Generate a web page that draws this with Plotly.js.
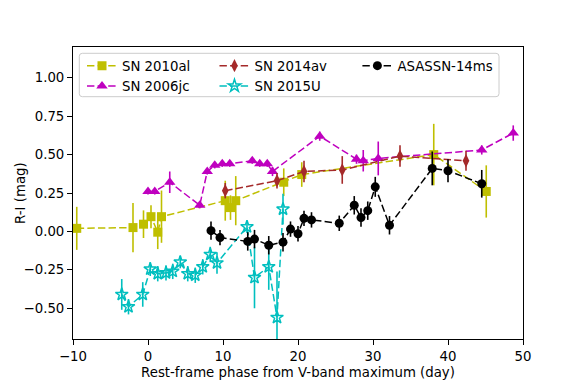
<!DOCTYPE html>
<html>
<head>
<meta charset="utf-8">
<script src="https://cdn.plot.ly/plotly-3.0.1.min.js"></script>
<style>
  html, body { margin: 0; padding: 0; background: #ffffff; }
  #chart { width: 581px; height: 388px; }
</style>
</head>
<body>
<div id="chart"></div>
<script>
// SN 2010al
const sn2010alPhase = [-9.5, -2.0, -0.6, 0.4, 1.3, 1.8, 10.3, 11.0, 11.7, 18.1, 20.5, 38.1, 45.1];
const sn2010alColor = [0.02, 0.025, 0.047, 0.096, -0.005, 0.096, 0.20, 0.155, 0.20, 0.32, 0.37, 0.50, 0.26];
const sn2010alErr = [0.14, 0.16, 0.09, 0.075, 0.11, 0.17, 0.13, 0.08, 0.16, 0.09, 0.08, 0.20, 0.17];

// SN 2006jc
const sn2006jcPhase = [0.0, 0.9, 2.9, 6.9, 7.9, 8.9, 9.9, 10.9, 13.9, 14.9, 15.9, 16.6, 22.9, 27.8, 28.7, 30.7, 44.5, 48.7];
const sn2006jcColor = [0.26, 0.26, 0.32, 0.17, 0.39, 0.43, 0.44, 0.44, 0.46, 0.44, 0.44, 0.39, 0.62, 0.47, 0.46, 0.475, 0.53, 0.64];
const sn2006jcErr = [0.02, 0.02, 0.07, 0.02, 0.02, 0.02, 0.02, 0.02, 0.02, 0.02, 0.02, 0.03, 0.03, 0.03, 0.07, 0.11, 0.03, 0.05];

// SN 2014av
const sn2014avPhase = [10.3, 17.2, 20.8, 25.9, 33.6, 42.4];
const sn2014avColor = [0.265, 0.33, 0.39, 0.40, 0.49, 0.46];
const sn2014avErr = [0.05, 0.05, 0.07, 0.09, 0.07, 0.065];

// SN 2015U
const sn2015uPhase = [-3.5, -2.6, -0.7, 0.3, 1.3, 2.4, 3.3, 4.3, 5.3, 6.3, 7.3, 8.3, 9.2, 13.2, 14.2, 16.1, 17.2, 18.0];
const sn2015uColor = [-0.41, -0.49, -0.41, -0.245, -0.275, -0.27, -0.26, -0.20, -0.275, -0.285, -0.23, -0.15, -0.205, 0.03, -0.30, -0.23, -0.56, 0.145];
const sn2015uErr = [0.10, 0.05, 0.08, 0.045, 0.05, 0.05, 0.05, 0.04, 0.05, 0.05, 0.05, 0.05, 0.07, 0.04, 0.20, 0.15, 0.30, 0.10];

// ASASSN-14ms
const asassnPhase = [8.4, 9.6, 13.3, 14.2, 16.1, 18.0, 19.0, 20.0, 20.8, 21.8, 25.5, 27.5, 28.4, 29.3, 30.3, 32.2, 37.9, 40.0, 44.5];
const asassnColor = [0.005, -0.04, -0.065, -0.05, -0.09, -0.07, 0.015, -0.015, 0.085, 0.075, 0.053, 0.17, 0.09, 0.135, 0.29, 0.04, 0.41, 0.395, 0.31];
const asassnErr = [0.06, 0.05, 0.06, 0.06, 0.06, 0.06, 0.05, 0.05, 0.05, 0.05, 0.05, 0.06, 0.06, 0.06, 0.065, 0.06, 0.11, 0.075, 0.09];

const xTicks = [-10, 0, 10, 20, 30, 40, 50];
const yTicks = [-0.5, -0.25, 0, 0.25, 0.5, 0.75, 1.0];

const FONT = "'DejaVu Sans', sans-serif";
const DASH = '7.4px,3.2px';

function series(name, x, y, err, color, symbol, size, legendId) {
  const open = symbol.endsWith('-open');
  return {
    x: x, y: y, name: name,
    type: 'scatter', mode: 'lines+markers',
    line: { color: color, width: 1.5, dash: DASH },
    marker: { color: color, symbol: symbol, size: size, line: { width: open ? 1.5 : 0, color: color } },
    error_y: { type: 'data', array: err, visible: true, color: color, thickness: 1.6, width: 0 },
    legend: legendId
  };
}

const traces = [
  series('SN 2010al', sn2010alPhase, sn2010alColor, sn2010alErr, '#bfbf00', 'square', 9, 'legend'),
  series('SN 2006jc', sn2006jcPhase, sn2006jcColor, sn2006jcErr, '#bf00bf', 'triangle-up', 10, 'legend'),
  series('SN 2014av', sn2014avPhase, sn2014avColor, sn2014avErr, '#a52a2a', 'diamond-tall', 9.5, 'legend2'),
  series('SN 2015U', sn2015uPhase, sn2015uColor, sn2015uErr, '#00bfbf', 'star-open', 9.5, 'legend2'),
  series('ASASSN-14ms', asassnPhase, asassnColor, asassnErr, '#000000', 'circle', 9, 'legend3')
];

// legend columns (matplotlib ncol=3 look), framed by one shared box
function legendCol(x) {
  return {
    orientation: 'v', x: x, y: 0.988, xanchor: 'left', yanchor: 'top',
    bgcolor: 'rgba(0,0,0,0)', borderwidth: 0,
    font: { family: FONT, size: 13.3, color: '#000000' },
    traceorder: 'normal'
  };
}

const bx0 = 0.014, bx1 = 0.9467, by0 = 0.8298, by1 = 0.9784;
const rx = 3 / 450, ry = 3 / 292;
const boxPath = `M${bx0 + rx},${by0} L${bx1 - rx},${by0} Q${bx1},${by0} ${bx1},${by0 + ry} ` +
  `L${bx1},${by1 - ry} Q${bx1},${by1} ${bx1 - rx},${by1} L${bx0 + rx},${by1} ` +
  `Q${bx0},${by1} ${bx0},${by1 - ry} L${bx0},${by0 + ry} Q${bx0},${by0} ${bx0 + rx},${by0} Z`;

const layout = {
  width: 581, height: 388,
  margin: { l: 73, r: 58, t: 47, b: 49 },
  paper_bgcolor: '#ffffff', plot_bgcolor: '#ffffff',
  font: { family: FONT, size: 13.3, color: '#000000' },
  showlegend: true,
  legend: legendCol(0.02),
  legend2: legendCol(0.3144),
  legend3: legendCol(0.632),
  shapes: [{
    type: 'path', xref: 'paper', yref: 'paper', path: boxPath,
    fillcolor: 'rgba(255,255,255,0.8)', line: { color: '#cccccc', width: 1 }, layer: 'above'
  }],
  annotations: [{
    text: 'R-I (mag)', xref: 'paper', yref: 'paper', x: -0.118, y: 0.5,
    xanchor: 'center', yanchor: 'middle', textangle: -90, showarrow: false,
    font: { family: FONT, size: 13.3, color: '#000000' }
  }],
  xaxis: {
    range: [-10, 50], tickvals: xTicks, ticktext: xTicks.map(v => v < 0 ? '\u2212' + Math.abs(v) : String(v)),
    showgrid: false, zeroline: false,
    showline: true, linecolor: '#000000', linewidth: 1, mirror: true,
    ticks: 'outside', ticklen: 5, tickwidth: 1, tickcolor: '#000000',
    title: { text: 'Rest-frame phase from V-band maximum (day)', font: { family: FONT, size: 13.3 }, standoff: 4 }
  },
  yaxis: {
    range: [-0.7, 1.2], tickvals: yTicks, tickformat: '.2f',
    showgrid: false, zeroline: false,
    showline: true, linecolor: '#000000', linewidth: 1, mirror: true,
    ticks: 'outside', ticklen: 5, tickwidth: 1, tickcolor: '#000000'
  }
};

Plotly.newPlot('chart', traces, layout, { displayModeBar: false, staticPlot: true });
</script>
</body>
</html>
